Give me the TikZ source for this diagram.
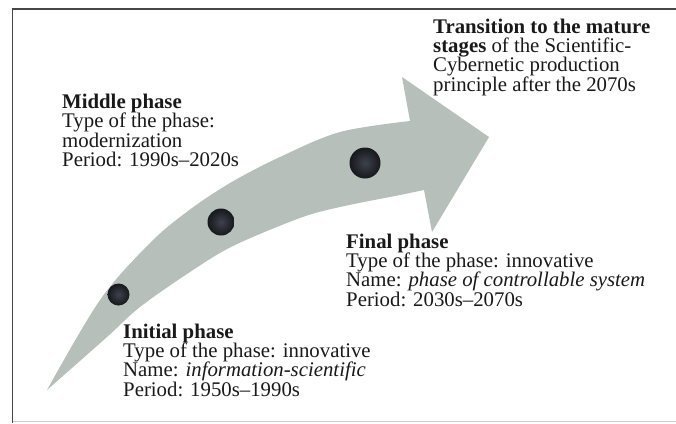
\documentclass[tikz,border=0pt]{standalone}
\usepackage{fontspec}
\setmainfont{Liberation Serif}
\definecolor{arrowgray}{RGB}{182,191,186}
\definecolor{dotin}{RGB}{62,66,76}
\definecolor{dotout}{RGB}{22,24,28}
\definecolor{framedark}{RGB}{70,70,70}
\definecolor{framelight}{RGB}{205,205,205}
\begin{document}
\begin{tikzpicture}[x=1pt,y=-1pt,
  lbl/.style={anchor=base west,inner sep=0pt,align=left,font=\fontsize{20.8}{19.3}\selectfont,text=black!90},
  dotball/.style={circle,inner sep=0pt,minimum size=#1,inner color=dotin,outer color=dotout}]
\useasboundingbox (0,0) rectangle (676,423);
% frame
\draw[framedark,line width=1.6pt] (676,9) -- (12.5,9) -- (12.5,423);
\draw[framelight,line width=1.2pt] (12.5,421.8) -- (676,421.8);
% curved arrow
\fill[arrowgray] (47,390)
  -- plot[smooth,tension=0.55] coordinates {(47,390) (100,300) (150,243) (188,211) (230,183) (280,157) (340,132) (410,121)}
  -- (402,77) -- (489,137) -- (432,232) -- (424,190)
  -- plot[smooth,tension=0.55] coordinates {(424,190) (400,195) (340,207) (300,218) (233,246) (190,272) (140,307) (107,337) (47,390)}
  -- cycle;
% dots
\node[dotball=22pt] (d1) at (118.5,294.5) {};
\node[dotball=27pt] (d2) at (221,222) {};
\node[dotball=31pt] (d3) at (365,163) {};
% texts (base anchor = baseline of the last line)
\node[lbl] (mid) at (62,166.5) {\textbf{Middle phase}\\Type of the phase:\\modernization\\Period: 1990s–2020s};
\node[lbl] (trans) at (433,91) {\textbf{Transition to the mature}\\\textbf{stages} of the Scientific-\\Cybernetic production\\principle after the 2070s};
\node[lbl] (fin) at (346,306) {\textbf{Final phase}\\Type of the phase: innovative\\Name: \textit{phase of controllable system}\\Period: 2030s–2070s};
\node[lbl] (ini) at (123,396) {\textbf{Initial phase}\\Type of the phase: innovative\\Name: \textit{information-scientific}\\Period: 1950s–1990s};
\end{tikzpicture}
\end{document}
